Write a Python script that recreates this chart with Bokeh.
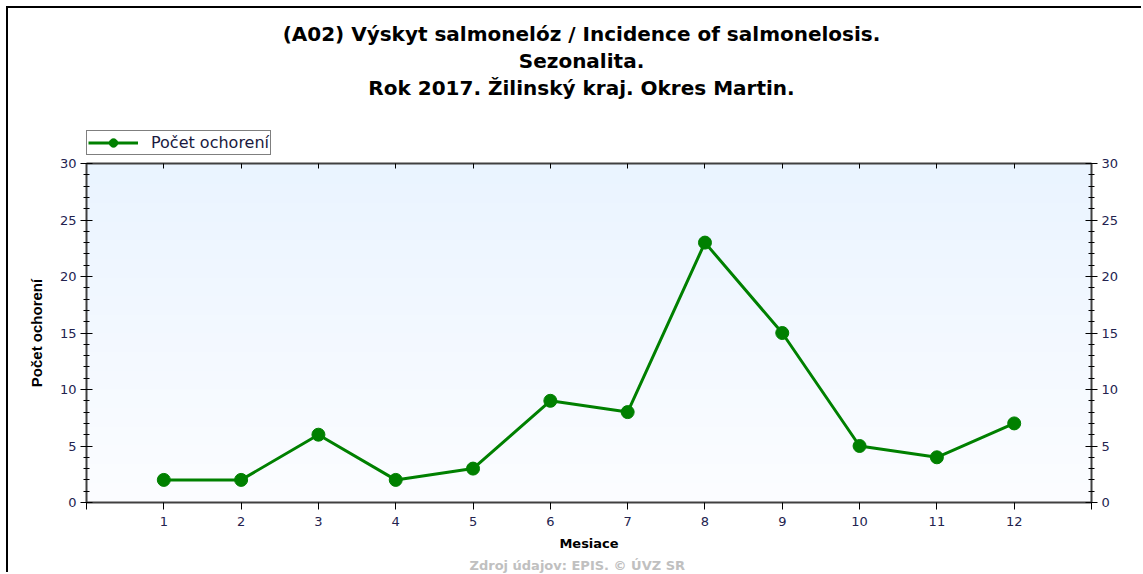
import numpy as np
from bokeh.plotting import figure
from bokeh.layouts import column
from bokeh.models import (LinearAxis, FixedTicker, Range1d, Legend, LegendItem,
                          Title, Label, ColumnDataSource)
from bokeh.embed import file_html
from bokeh.resources import INLINE

# ---- data ----
months = [1, 2, 3, 4, 5, 6, 7, 8, 9, 10, 11, 12]
cases = [2, 2, 6, 2, 3, 9, 8, 23, 15, 5, 4, 7]
series_name = "Počet ochorení"
title_lines = ["(A02) Výskyt salmonelóz / Incidence of salmonelosis.",
               "Sezonalita.",
               "Rok 2017. Žilinský kraj. Okres Martin."]
x_label = "Mesiace"
y_label = "Počet ochorení"
footer = "Zdroj údajov: EPIS. © ÚVZ SR"
y_ticks = [0, 5, 10, 15, 20, 25, 30]
x_ticks = list(range(0, 14))

XMIN, XMAX = 0, 13
YMIN, YMAX = 0, 30

FONT = "DejaVu Sans"
TICK_COLOR = "#23234f"
AXIS_COLOR = "#404040"
GREEN = "#008000"

W = 1135
HEAD_H = 147
MAIN_H = 419
LEFT = 78
RIGHT = 52

# ---------------- header (titles + legend) ----------------
head = figure(width=W, height=HEAD_H, output_backend="svg", toolbar_location=None,
              x_range=Range1d(0, 1), y_range=Range1d(0, 1),
              x_axis_location=None, y_axis_location=None,
              min_border=0)
head.grid.visible = False
head.outline_line_color = None
head.background_fill_color = "white"
head.border_fill_color = "white"

hl = head.line(months, cases, line_color=GREEN, line_width=3, visible=False)
hs = head.scatter(months, cases, size=13, fill_color=GREEN, line_color=GREEN,
                  visible=False)

title_y = [122, 95, 68]
for txt, yy in zip(title_lines, title_y):
    head.add_layout(Label(x=495, y=yy, x_units="screen", y_units="screen",
                          text=txt, text_font=FONT, text_font_size="20px",
                          text_font_style="bold", text_align="center",
                          text_baseline="middle", text_color="#000000"))

legend = Legend(items=[LegendItem(label=series_name, renderers=[hl, hs])],
                location=(0, 0), orientation="horizontal",
                border_line_color="#000000", border_line_width=1,
                background_fill_color="white", background_fill_alpha=1,
                inactive_fill_alpha=0,
                label_text_font=FONT, label_text_font_size="16px",
                label_text_color="#1a1a40",
                glyph_width=50, glyph_height=21, label_height=19,
                padding=1, margin=0, spacing=0, label_standoff=13)
head.add_layout(legend, "center")

# ---------------- main plot ----------------
p = figure(width=W, height=MAIN_H, output_backend="svg", toolbar_location=None,
           x_range=Range1d(XMIN, XMAX), y_range=Range1d(YMIN, YMAX),
           x_axis_location=None, y_axis_location=None,
           min_border_left=LEFT, min_border_right=RIGHT,
           min_border_top=8, min_border_bottom=72)
p.grid.visible = False
p.outline_line_color = None
p.background_fill_color = "white"
p.border_fill_color = "white"

# gradient background of plot area
n = 200
t = np.linspace(0, 1, n)[:, None]  # 0 bottom -> 1 top
top = np.array([234, 244, 255])
bot = np.array([252, 253, 255])
cols = bot + (top - bot) * t
img = np.zeros((n, 1), dtype=np.uint32)
view = img.view(dtype=np.uint8).reshape((n, 1, 4))
view[:, :, 0] = cols[:, 0:1]
view[:, :, 1] = cols[:, 1:2]
view[:, :, 2] = cols[:, 2:3]
view[:, :, 3] = 255
p.image_rgba(image=[img], x=XMIN, y=YMIN, dw=XMAX - XMIN, dh=YMAX - YMIN)

def style_axis(ax):
    ax.axis_line_color = AXIS_COLOR
    ax.axis_line_width = 2
    ax.major_tick_line_color = "#000000"
    ax.minor_tick_line_color = "#000000"
    ax.major_label_text_font = FONT
    ax.major_label_text_font_size = "13px"
    ax.major_label_text_color = TICK_COLOR
    ax.axis_label_text_font = FONT
    ax.axis_label_text_font_size = "13px"
    ax.axis_label_text_font_style = "bold"
    ax.axis_label_text_color = "#000000"

xb = LinearAxis(ticker=FixedTicker(ticks=x_ticks), axis_label=x_label)
style_axis(xb)
xb.major_tick_in = 0
xb.major_tick_out = 7
xb.minor_tick_out = 0
xb.minor_tick_in = 0
xb.major_label_standoff = 7
xb.axis_label_standoff = 7
xb.major_label_overrides = {XMIN: "", XMAX: ""}
p.add_layout(xb, "below")

xt = LinearAxis(ticker=FixedTicker(ticks=months))
style_axis(xt)
xt.major_tick_in = 5
xt.major_tick_out = 0
xt.minor_tick_out = 0
xt.minor_tick_in = 0
xt.major_label_standoff = 0
xt.major_label_text_font_size = "0px"
p.add_layout(xt, "above")

for side in ("left", "right"):
    ya = LinearAxis(ticker=FixedTicker(ticks=y_ticks,
                                       minor_ticks=list(range(YMIN, YMAX + 1))))
    style_axis(ya)
    ya.major_tick_in = 6
    ya.major_tick_out = 6
    ya.minor_tick_in = 3
    ya.minor_tick_out = 3
    ya.major_label_standoff = 4
    if side == "left":
        ya.axis_label = y_label
        ya.axis_label_text_font = "Liberation Sans"
        ya.axis_label_text_font_size = "15px"
        ya.axis_label_standoff = 12
    p.add_layout(ya, side)

src = ColumnDataSource(dict(x=months, y=cases))
p.line("x", "y", source=src, line_color=GREEN, line_width=3)
p.scatter("x", "y", source=src, size=13, fill_color=GREEN, line_color=GREEN)

p.add_layout(Title(text=footer, align="left", offset=383,
                   text_font=FONT, text_font_size="13px",
                   text_font_style="bold", text_color="#c0c0c0",
                   standoff=4), "below")

layout = column(head, p, spacing=0)
layout.styles = {"box-shadow": "-2px -2px 0px 0px #000000",
                 "position": "relative", "left": "8px", "top": "8px"}

open("out.html", "w").write(file_html(layout, INLINE))
